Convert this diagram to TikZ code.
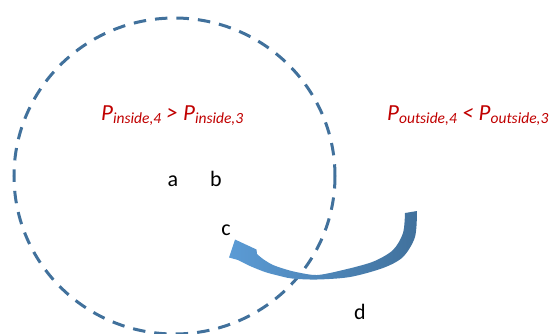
\documentclass[tikz,border=0pt]{standalone}
\usepackage{fontspec}
\setmainfont{Carlito}
\definecolor{circblue}{HTML}{41719C}
\definecolor{arrL}{HTML}{5B9BD5}
\definecolor{arrR}{HTML}{41719C}
\definecolor{pred}{HTML}{C00000}
\newcommand{\subtx}[1]{\raisebox{-3pt}{\fontsize{15.5}{15.5}\selectfont #1}}
\begin{document}
\begin{tikzpicture}[x=1pt,y=-1pt,
  circ/.style={draw=circblue,line width=3pt,dash pattern=on 12.5pt off 9pt},
  lbl/.style={inner sep=0pt,anchor=base,font=\fontsize{22}{26}\selectfont},
  red/.style={lbl,text=pred,font=\fontsize{23}{27}\selectfont\itshape}]
\useasboundingbox (0,0) rectangle (550,333);
\draw[circ] (174.5,176) ellipse [x radius=160.5, y radius=158];
\node[red,anchor=base west] (pin) at (101,120) {P\subtx{inside,4} > P\subtx{inside,3}};
\node[red,anchor=base west] (pout) at (387,120) {P\subtx{outside,4} < P\subtx{outside,3}};
\node[lbl] (a) at (173,186) {a};
\node[lbl] (b) at (216,186) {b};
\node[lbl] (c) at (226,235) {c};
\node[lbl] (d) at (360,319) {d};
\shade[left color=arrL,right color=arrR]
  plot[smooth] coordinates {(417,211) (415,237) (403,257) (383,268) (350,277) (317,279.5) (292,278.5) (278,275.5) (265,272) (250,266) (238,260)}
  -- (229,257.5) -- (235,239.5) -- (256.5,249.5) -- (257,254)
  -- plot[smooth] coordinates {(257,254) (263,259) (272,264.5) (283,268.5) (296,272) (317,275) (343,270) (373,261.7) (393,250) (403,233) (405,213)}
  -- cycle;
\end{tikzpicture}
\end{document}
